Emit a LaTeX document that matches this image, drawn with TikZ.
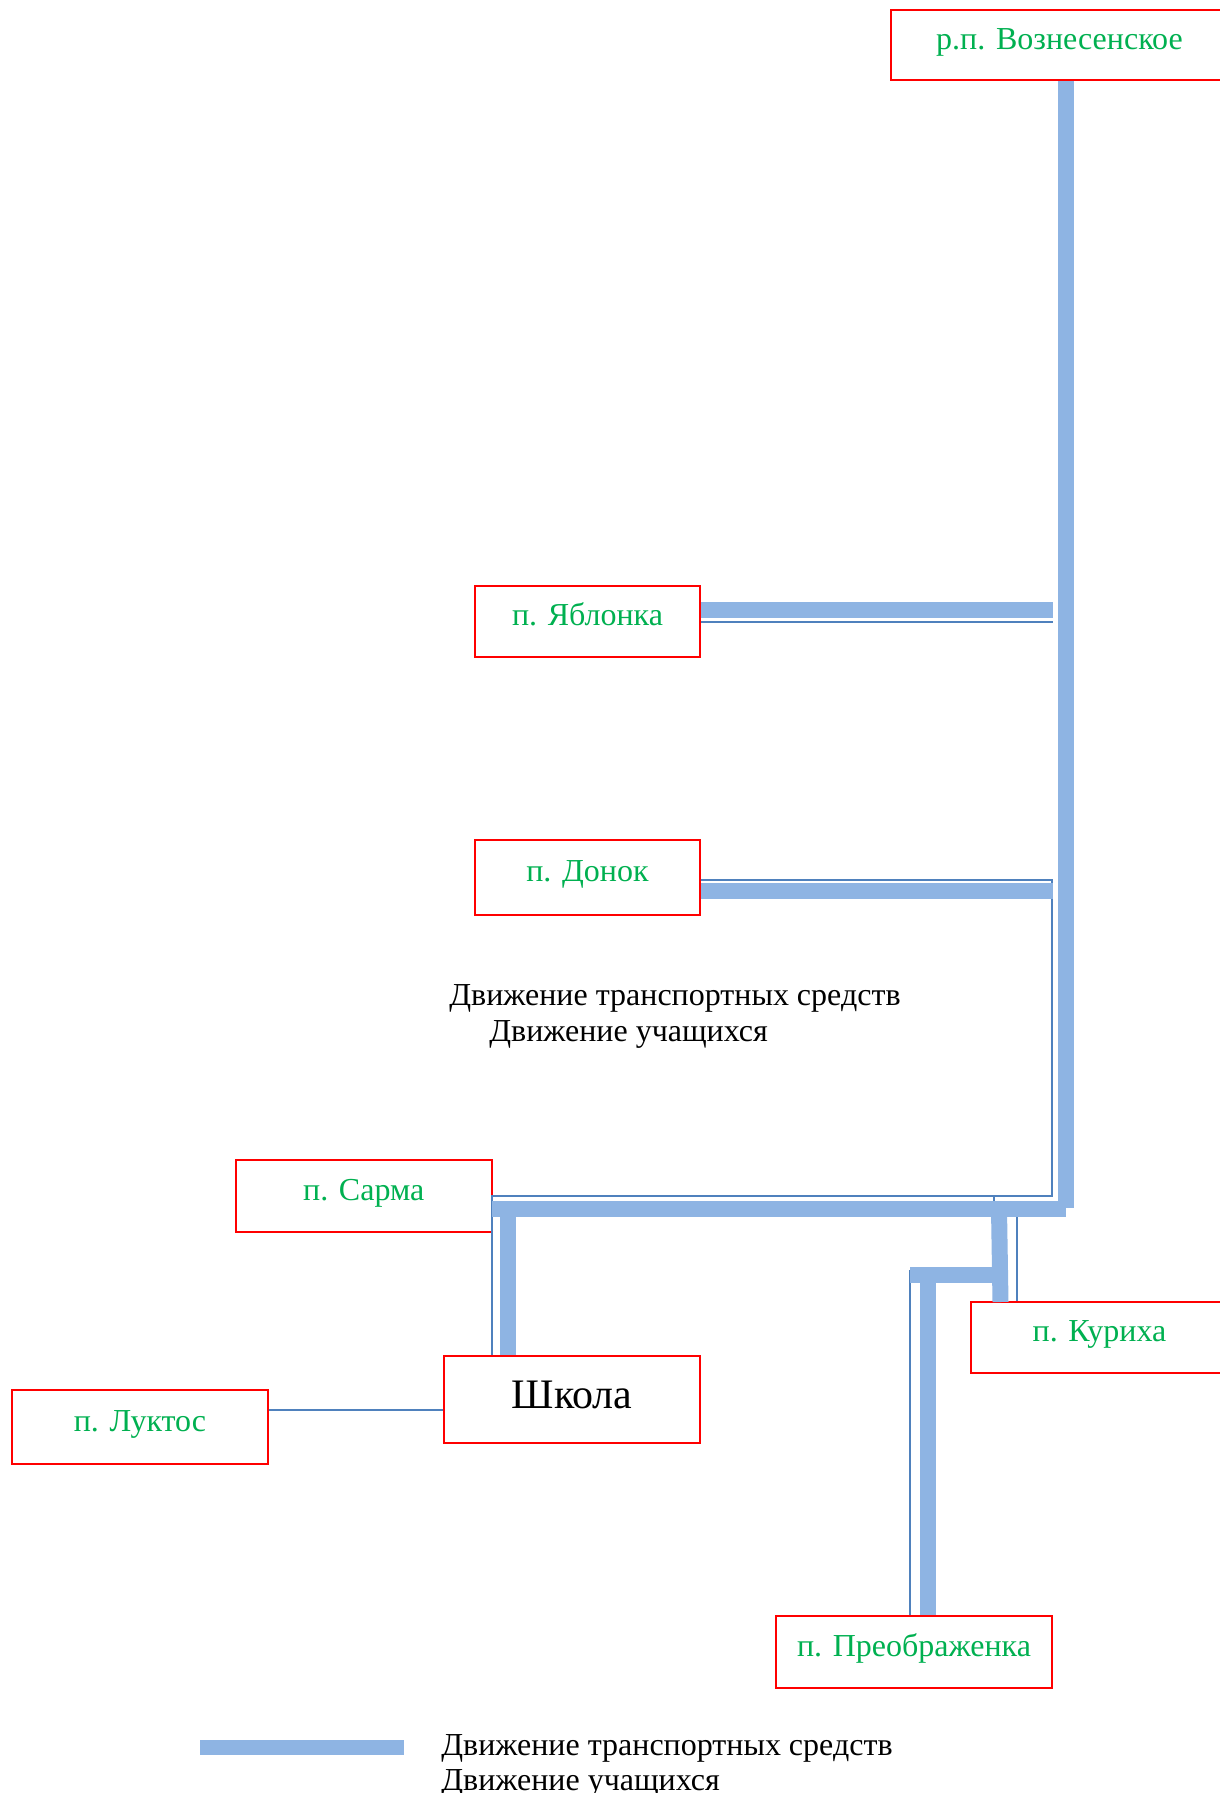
\documentclass[tikz,border=0pt]{standalone}
\usepackage{fontspec}
\setmainfont{Liberation Serif}
\usetikzlibrary{positioning,calc}
\definecolor{roadblue}{HTML}{8EB4E3}
\definecolor{walkblue}{HTML}{4F81BD}
\definecolor{boxred}{HTML}{FF0000}
\definecolor{namegreen}{HTML}{00B050}
\tikzset{
    village/.style={draw=boxred, line width=1pt, text=namegreen, inner sep=0pt,
        text height=10.4pt, text depth=6pt, font=\fontsize{16}{19}\selectfont},
    road/.style={draw=roadblue, line width=8pt},
    walk/.style={draw=walkblue, line width=0.75pt},
    legendtext/.style={anchor=west, inner sep=0pt, font=\fontsize{16}{19}\selectfont}
}

\begin{document}
\begin{tikzpicture}[x=0.5pt, y=-0.5pt]
    \clip (0,0) rectangle (1220,1793);
    \foreach \vname/\vx/\vy/\vw/\vh/\vtext in {
        vozn/1059.5/45/337/70/{р.п. Вознесенское},
        yabl/587.5/621.5/225/71/{п. Яблонка},
        donok/587.5/877.5/225/75/{п. Донок},
        sarma/363.75/1196/256.5/72/{п. Сарма},
        kuriha/1099.5/1337.5/257/71/{п. Куриха},
        luktos/140/1427/256.5/74/{п. Луктос},
        preob/914/1652/276/72/{п. Преображенка}} {
        \node[village, minimum width=\vw*0.5pt, minimum height=\vh*0.5pt] (\vname) at (\vx,\vy) {\vtext};
    }
    \node[village, text=black, font=\fontsize{21}{25}\selectfont, text height=14pt, text depth=4.6pt,
        minimum width=128pt, minimum height=43.5pt] (shkola) at (572,1399.5) {Школа};

    \coordinate (yw) at (1053,622);
    \coordinate (dw) at (1052,880);
    \coordinate (sw) at (492,1196);
    \coordinate (lw) at (0,1410);
    \coordinate (kw) at (1017,1217);
    \coordinate (pw) at (910,1270);

    % students
    \draw[walk] (yabl.east |- yw) -- (yw);
    \draw[walk] (donok.east |- dw) -- (dw) |- (sw) -- (sw |- shkola.north);
    \draw[walk] (994,1196) -- (994,1209);
    \draw[walk] (kw) -- (kw |- kuriha.north);
    \draw[walk] (pw) -- (pw |- preob.north);
    \draw[walk] (luktos.east |- lw) -- (shkola.west |- lw);

    \coordinate (j1) at (1066,1208);
    \coordinate (yj) at (1053,610);
    \coordinate (dj) at (1053,890.5);
    \coordinate (sj) at (492,1209);
    \coordinate (sk) at (508,1209);
    \coordinate (kj) at (999,1209);
    \coordinate (kb) at (1000.5,1302);
    \coordinate (pj) at (910,1274.5);
    \coordinate (pk) at (928,1274.5);

    % vehicles
    \draw[road] (j1 |- vozn.south) -- (j1);
    \draw[road] (yabl.east |- yj) -- (yj);
    \draw[road] (donok.east |- dj) -- (dj);
    \draw[road] (sj) -- (sj -| j1);
    \draw[road] (sk) -- (sk |- shkola.north);
    \draw[road] (kj) -- (kb);
    \draw[road] (pj) -- (999.7,1274.5);
    \draw[road] (pk) -- (pk |- preob.north);

    \node[legendtext] (mid1) at (449,998.5) {Движение транспортных средств};
    \node[legendtext] (mid2) at (489,1034.5) {Движение учащихся};

    \coordinate (lg1) at (200,1747.5);
    \coordinate (lg2) at (404,1747.5);
    \draw[road, line width=7.5pt] (lg1) -- (lg2);
    \node[legendtext] (leg1) at (441,1748) {Движение транспортных средств};
    \node[legendtext] (leg2) at (441,1783) {Движение учащихся};
\end{tikzpicture}
\end{document}
